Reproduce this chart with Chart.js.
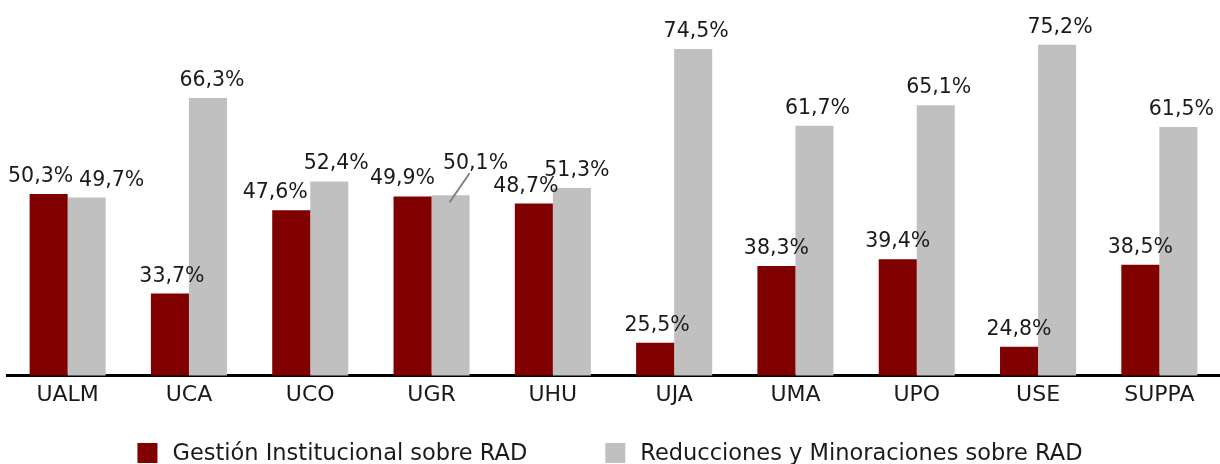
<!DOCTYPE html>
<html><head><meta charset="utf-8">
<script src="https://cdn.jsdelivr.net/npm/chart.js@4.4.0/dist/chart.umd.min.js"></script>
<style>html,body{margin:0;padding:0;background:#fff}#wrap{width:1220px;height:464px;position:relative}</style>
</head><body><div id="wrap"><canvas id="c" width="1220" height="464"></canvas></div>
<script>
const categories = ['UALM','UCA','UCO','UGR','UHU','UJA','UMA','UPO','USE','SUPPA'];
const seriesNames = ['Gestión Institucional sobre RAD','Reducciones y Minoraciones sobre RAD'];
const gestion = [50.3, 33.7, 47.6, 49.9, 48.7, 25.5, 38.3, 39.4, 24.8, 38.5];
const reducciones = [49.7, 66.3, 52.4, 50.1, 51.3, 74.5, 61.7, 65.1, 75.2, 61.5];

const FONT = '"DejaVu Sans", sans-serif';
const labelShift = [
  [[-8,0],[2,0],[-16,0],[-10,0],[-8,0],[2,0],[0,0],[0,0],[0,0],[0,0]],
  [[25,0],[4,0],[7,0],[25,-14],[5,0],[3,0],[3,0],[3,0],[3,0],[3,0]]
];
const fmt = v => v.toFixed(1).replace('.', ',') + '%';

const labelPlugin = {
  id: 'valLabels',
  afterDatasetsDraw(chart) {
    const ctx = chart.ctx;
    ctx.save();
    ctx.font = '20.5px ' + FONT;
    ctx.fillStyle = '#1a1a1a';
    ctx.textAlign = 'center';
    ctx.textBaseline = 'bottom';
    chart.data.datasets.forEach((ds, di) => {
      chart.getDatasetMeta(di).data.forEach((bar, i) => {
        const [dx, dy] = labelShift[di][i];
        const x = bar.x + dx, y = bar.y - 7 + dy;
        ctx.fillText(fmt(ds.data[i]), x, y);
        if (dy !== 0) {
          ctx.strokeStyle = '#808080';
          ctx.lineWidth = 2;
          ctx.beginPath();
          ctx.moveTo(bar.x + 19, bar.y - 22);
          ctx.lineTo(bar.x - 1, bar.y + 7);
          ctx.stroke();
        }
      });
    });
    ctx.restore();
  }
};

const legendPlugin = {
  id: 'bottomLegend',
  afterDraw(chart) {
    const ctx = chart.ctx;
    ctx.save();
    ctx.font = '22.5px ' + FONT;
    ctx.textBaseline = 'middle';
    ctx.textAlign = 'left';
    const box = 20, gapText = 15, gapItem = 78, cy = 453;
    const items = chart.data.datasets.map(ds => ({t: ds.label, c: ds.backgroundColor, w: ctx.measureText(ds.label).width}));
    const total = items.reduce((s, it) => s + box + gapText + it.w, 0) + gapItem * (items.length - 1);
    let x = (chart.width - total) / 2;
    items.forEach(it => {
      ctx.fillStyle = it.c;
      ctx.fillRect(x, cy - box / 2, box, box);
      ctx.fillStyle = '#1a1a1a';
      ctx.fillText(it.t, x + box + gapText, cy + 1);
      x += box + gapText + it.w + gapItem;
    });
    ctx.restore();
  }
};

new Chart(document.getElementById('c'), {
  type: 'bar',
  data: {
    labels: categories,
    datasets: [
      {label: seriesNames[0], data: gestion, backgroundColor: '#800000', categoryPercentage: 0.627, barPercentage: 1.0},
      {label: seriesNames[1], data: reducciones, backgroundColor: '#C0C0C0', categoryPercentage: 0.627, barPercentage: 1.0}
    ]
  },
  options: {
    responsive: false,
    animation: false,
    layout: {padding: {left: 7, right: 0, top: 16, bottom: 50}},
    plugins: {legend: {display: false}, tooltip: {enabled: false}},
    scales: {
      x: {
        grid: {display: false, drawTicks: false},
        border: {display: true, color: '#000', width: 3},
        ticks: {font: {family: FONT, size: 22}, color: '#1a1a1a', padding: 6}
      },
      y: {display: false, min: 20, max: 80}
    }
  },
  plugins: [labelPlugin, legendPlugin]
});
</script></body></html>
